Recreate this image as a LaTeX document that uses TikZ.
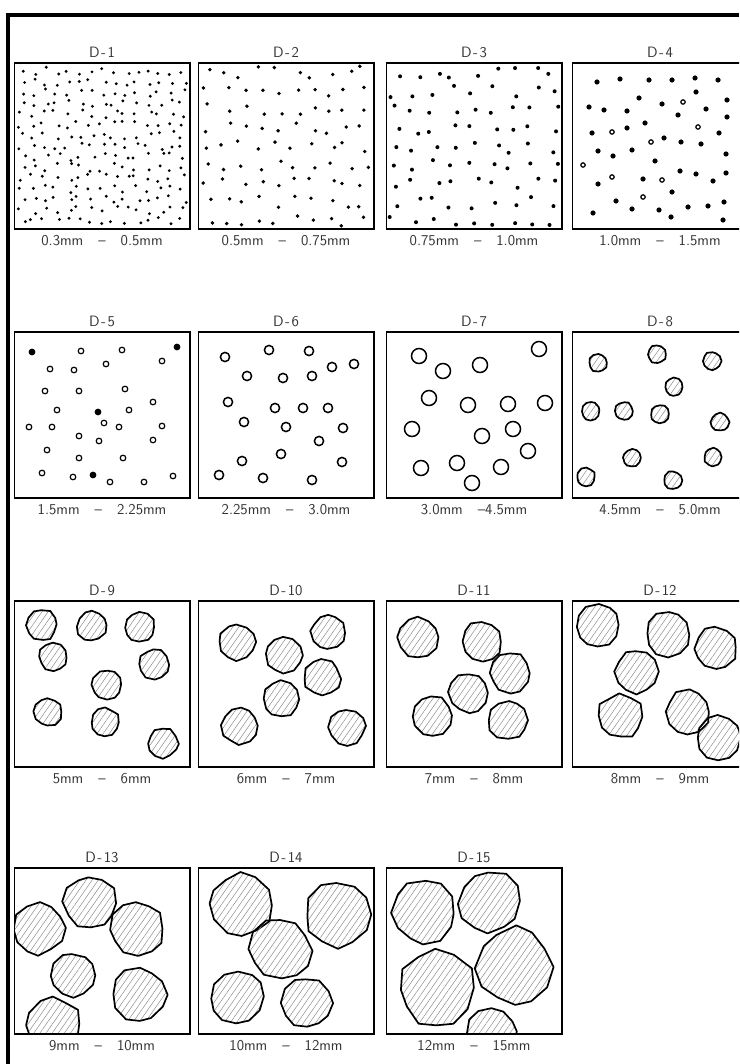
\documentclass[tikz,border=0pt]{standalone}
\usepackage{fontspec}
\usetikzlibrary{positioning, patterns.meta}

% one irregular hatched grain: centre x, centre y, radius
\newcommand\grain[3]{%
  \draw[grain] plot[samples=12, domain=0:330, variable=\t]
    ({#1+#3*cos(\t)+0.07*#3*rand}, {#2+#3*sin(\t)+0.07*#3*rand}) -- cycle;}

\begin{document}
\begin{tikzpicture}[x=1pt, y=-1pt,
  panel/.style={minimum width=175pt, minimum height=166pt, inner sep=0pt},
  boxline/.style={line width=1.6pt},
  title/.style={font=\sffamily\fontsize{15}{15}\selectfont, text=black!80, inner sep=0pt},
  sizetext/.style={title},
  ring/.style={draw=black, line width=1.2pt},
  grain/.style={draw=black, line width=1.7pt, line join=round,
    pattern={Lines[angle=55, distance=5pt, line width=0.5pt]}, pattern color=black!45}]

  \clip (0,0) rectangle (739,1064);
  \pgfmathsetseed{4242}

  % Outer frame (top and left only)
  \draw[line width=4pt] (8,1064) -- (8,15) -- (739,15);

  % Panels
  \foreach \i/\x/\y in {1/102/146, 2/286/146, 3/474/146, 4/660/146,
                        5/102/415, 6/286/415, 7/474/415, 8/660/415,
                        9/102/684, 10/286/684, 11/474/684, 12/660/684,
                        13/102/951, 14/286/951, 15/474/951}
    \node[panel] (p\i) at (\x,\y) {};

  % Titles
  \foreach \i in {1,...,15}
    \node[title, above=5pt of p\i] (t\i) {D\kern1.5pt-\kern1.5pt\i};

  % Size ranges
  \foreach \i/\txt in {1/{0.3mm\quad--\quad0.5mm}, 2/{0.5mm\quad--\quad0.75mm},
                       3/{0.75mm\quad--\quad1.0mm}, 4/{1.0mm\quad--\quad1.5mm},
                       5/{1.5mm\quad--\quad2.25mm}, 6/{2.25mm\quad--\quad3.0mm},
                       7/{3.0mm\quad--4.5mm}, 8/{4.5mm\quad--\quad5.0mm},
                       9/{5mm\quad--\quad6mm}, 10/{6mm\quad--\quad7mm},
                       11/{7mm\quad--\quad8mm}, 12/{8mm\quad--\quad9mm},
                       13/{9mm\quad--\quad10mm}, 14/{10mm\quad--\quad12mm},
                       15/{12mm\quad--\quad15mm}}
    \node[sizetext, below=6pt of p\i] (r\i) {\txt};

  % D-1 fine dots
  \begin{scope}
    \clip (p1.south west) rectangle (p1.north east);
    \foreach \i in {0,...,14} \foreach \j in {0,...,14}
      \fill ({22+11.5*\i+4*rand}, {71+10.7*\j+4*rand}) circle (1.6);
  \end{scope}

  % D-2
  \begin{scope}
    \clip (p2.south west) rectangle (p2.north east);
    \foreach \i in {0,...,9} \foreach \j in {0,...,8}
      \fill ({208+17.3*\i+6*rand}, {72+18.5*\j+6*rand}) circle (1.9);
  \end{scope}

  % D-3
  \begin{scope}
    \clip (p3.south west) rectangle (p3.north east);
    \foreach \i in {0,...,8} \foreach \j in {0,...,8}
      \fill ({395+19.7*\i+6*rand}, {73+18.5*\j+6*rand}) circle (2);
  \end{scope}

  % D-4
  \begin{scope}
    \clip (p4.south west) rectangle (p4.north east);
    \foreach \x/\y in {597/82, 620/79, 649/80, 672/80, 695/78, 718/80, 696/92,
        639/98, 662/104, 727/100, 589/107, 604/110, 627/111, 706/109, 678/115,
        727/117, 645/123, 627/128, 592/133, 719/133, 664/138, 681/142, 701/144,
        598/151, 632/150, 726/154, 613/156, 655/161, 680/171, 696/174, 726/173,
        598/184, 643/179, 713/181, 672/192, 616/201, 632/209, 659/210, 688/207,
        708/206, 724/202, 593/213, 671/217, 723/220}
      \fill (\x,\y) circle (2.6);
    \foreach \x/\y in {683/102, 698/127, 612/132, 651/142, 583/165, 612/177,
        662/180, 643/197}
      \draw[ring] (\x,\y) circle (2.2);
  \end{scope}

  % D-5
  \foreach \x/\y in {32/352, 177/347, 98/412, 93/475}
    \fill (\x,\y) circle (3.4);
  \foreach \x/\y in {81/351, 122/350, 50/369, 74/370, 106/364, 162/361, 45/391,
      79/391, 125/389, 153/402, 57/410, 129/410, 29/427, 52/427, 104/423,
      119/427, 162/426, 79/436, 99/441, 153/440, 47/450, 79/458, 123/458,
      42/473, 73/477, 110/482, 144/482, 173/476}
    \draw[ring] (\x,\y) circle (2.8);

  % D-6
  \foreach \x/\y in {225/357, 269/350, 309/351, 332/367, 354/364, 247/376,
      283/378, 312/376, 228/402, 275/408, 303/408, 328/408, 244/422, 286/427,
      343/428, 319/441, 281/454, 242/461, 342/462, 219/475, 263/478, 312/480}
    \draw[ring, line width=1.5pt] (\x,\y) circle (4.6);

  % D-7
  \foreach \x/\y in {419/356, 443/371, 480/365, 539/349, 429/398, 468/405,
      508/404, 545/403, 412/429, 482/436, 513/429, 528/451, 421/468, 457/463,
      501/467, 472/483}
    \draw[ring, line width=1.5pt] (\x,\y) circle (7.5);

  % D-8
  \begin{scope}
    \clip (p8.south west) rectangle (p8.north east);
    \foreach \x/\y in {598/363, 657/354, 712/361, 674/387, 591/411, 624/411,
        660/414, 720/422, 632/458, 713/457, 586/477, 673/480}
      \grain{\x}{\y}{9};
  \end{scope}

  % D-9 to D-15
  \foreach \x/\y/\r in {42/625/15, 92/626/15, 140/627/15, 53/657/14, 154/664/15,
      107/685/15, 48/712/14, 105/722/14, 163/743/15}
    \grain{\x}{\y}{\r};
  \foreach \x/\y/\r in {237/642/18, 328/632/17, 284/655/18, 322/678/18,
      281/699/18, 240/726/18, 347/727/18}
    \grain{\x}{\y}{\r};
  \foreach \x/\y/\r in {418/638/20, 482/642/20, 510/673/20, 469/693/20,
      432/716/20, 508/720/20}
    \grain{\x}{\y}{\r};
  \begin{scope}
    \clip (p12.south west) rectangle (p12.north east);
    \foreach \x/\y/\r in {598/626/22, 668/634/22, 716/648/21, 637/672/22,
        620/716/22, 688/712/22, 719/738/22}
      \grain{\x}{\y}{\r};
  \end{scope}
  \begin{scope}
    \clip (p13.south west) rectangle (p13.north east);
    \foreach \x/\y/\r in {39/928/26, 90/902/26, 137/928/27, 73/975/22,
        139/995/27, 53/1025/27}
      \grain{\x}{\y}{\r};
  \end{scope}
  \foreach \x/\y/\r in {241/905/31, 338/915/32, 280/949/31, 237/997/27, 307/1003/25}
    \grain{\x}{\y}{\r};
  \begin{scope}
    \clip (p15.south west) rectangle (p15.north east);
    \foreach \x/\y/\r in {424/912/31, 489/902/31, 514/966/38, 437/989/38, 492/1033/25}
      \grain{\x}{\y}{\r};
  \end{scope}

  % Panel borders on top
  \foreach \i in {1,...,15}
    \draw[boxline] (p\i.south west) rectangle (p\i.north east);

\end{tikzpicture}
\end{document}
